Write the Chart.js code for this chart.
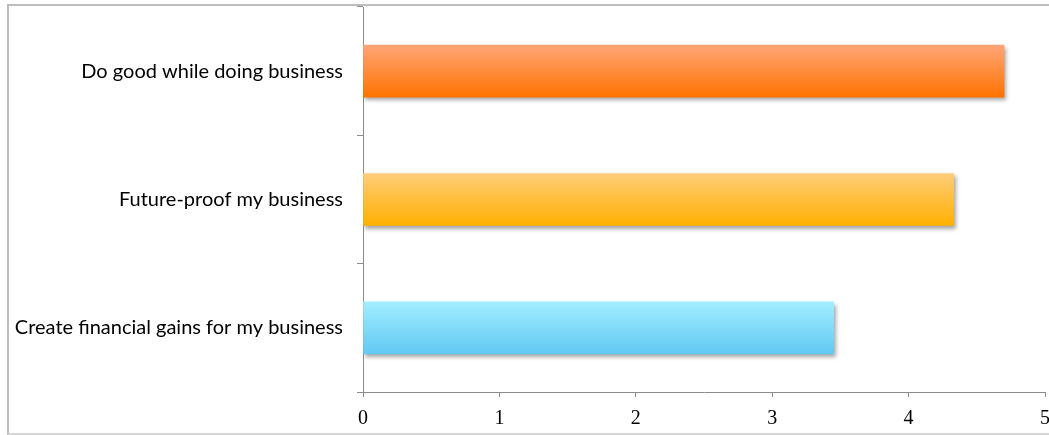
<!DOCTYPE html>
<html>
<head>
<meta charset="utf-8">
<script src="https://cdn.jsdelivr.net/npm/chart.js@4/dist/chart.umd.min.js"></script>
<style>
    body { margin: 0; background: #fff; }
    #wrap { position: relative; width: 1049px; height: 435px; overflow: hidden; }
    #frame { position: absolute; left: 7px; top: 4px; width: 1100px; height: 427px;
             border-left: 2px solid #bdbdbd; border-top: 2px solid #bdbdbd; border-bottom: 2px solid #d6d6d6; }
    #chart { position: absolute; left: 0; top: 0; }
</style>
</head>
<body>
<div id="wrap">
    <div id="frame"></div>
    <canvas id="chart" width="1049" height="435"></canvas>
</div>
<script>
// categories from top to bottom
const categories = ['Do good while doing business', 'Future-proof my business', 'Create financial gains for my business']
const scores = [4.70, 4.33, 3.45]
const xTicks = [0, 1, 2, 3, 4, 5]

// top colour / bottom colour of each bar gradient
const topColors = ['#ffa476', '#ffcd7a', '#a2eeff']
const bottomColors = ['#ff7300', '#ffb000', '#62c8f2']

const BAR = 52

function barGradient(ctx) {
    let i = ctx.dataIndex
    let chart = ctx.chart
    let y = chart.scales.y
    if (i === undefined) return bottomColors[0]
    let mid = y ? y.getPixelForValue(i) : NaN
    if (!isFinite(mid)) return bottomColors[i]
    let g = chart.ctx.createLinearGradient(0, mid - BAR / 2, 0, mid + BAR / 2)
    g.addColorStop(0, topColors[i])
    g.addColorStop(1, bottomColors[i])
    return g
}

const shadowPlugin = {
    id: 'barShadow',
    beforeDatasetsDraw(chart) {
        let c = chart.ctx
        c.save()
        c.shadowColor = 'rgba(0,0,0,0.35)'
        c.shadowBlur = 4
        c.shadowOffsetX = 2
        c.shadowOffsetY = 3
    },
    afterDatasetsDraw(chart) {
        chart.ctx.restore()
    }
}

let ctx = document.getElementById('chart').getContext('2d')
let chart = new Chart(ctx, {
    type: 'bar',
    data: {
        labels: categories,
        datasets: [{
            data: scores,
            backgroundColor: barGradient,
            borderWidth: 0,
            barThickness: BAR
        }]
    },
    options: {
        indexAxis: 'y',
        responsive: false,
        animation: false,
        layout: { padding: { top: 7, right: 4, left: 0, bottom: 0 } },
        plugins: {
            legend: { display: false },
            tooltip: { enabled: false }
        },
        scales: {
            x: {
                min: 0,
                max: 5,
                afterBuildTicks: (scale) => { scale.ticks = xTicks.map(v => ({ value: v })) },
                afterFit: (scale) => {
                    scale.height = 43
                    scale.paddingLeft = 0
                    scale.paddingRight = 0
                },
                border: { color: '#8c8c8c', width: 1 },
                grid: { drawOnChartArea: false, tickLength: 5, color: '#8c8c8c' },
                ticks: {
                    color: '#000',
                    padding: 10,
                    font: { family: '"Liberation Serif", "DejaVu Serif", serif', size: 20 }
                }
            },
            y: {
                afterFit: (scale) => {
                    scale.width = 363
                    scale.paddingTop = 0
                    scale.paddingBottom = 0
                },
                border: { color: '#8c8c8c', width: 1 },
                grid: { drawOnChartArea: false, tickLength: 6, color: '#8c8c8c', offset: true },
                ticks: {
                    color: '#000',
                    padding: 14,
                    font: { family: 'Lato, "Open Sans", sans-serif', size: 20 }
                }
            }
        }
    },
    plugins: [shadowPlugin]
})
</script>
</body>
</html>
